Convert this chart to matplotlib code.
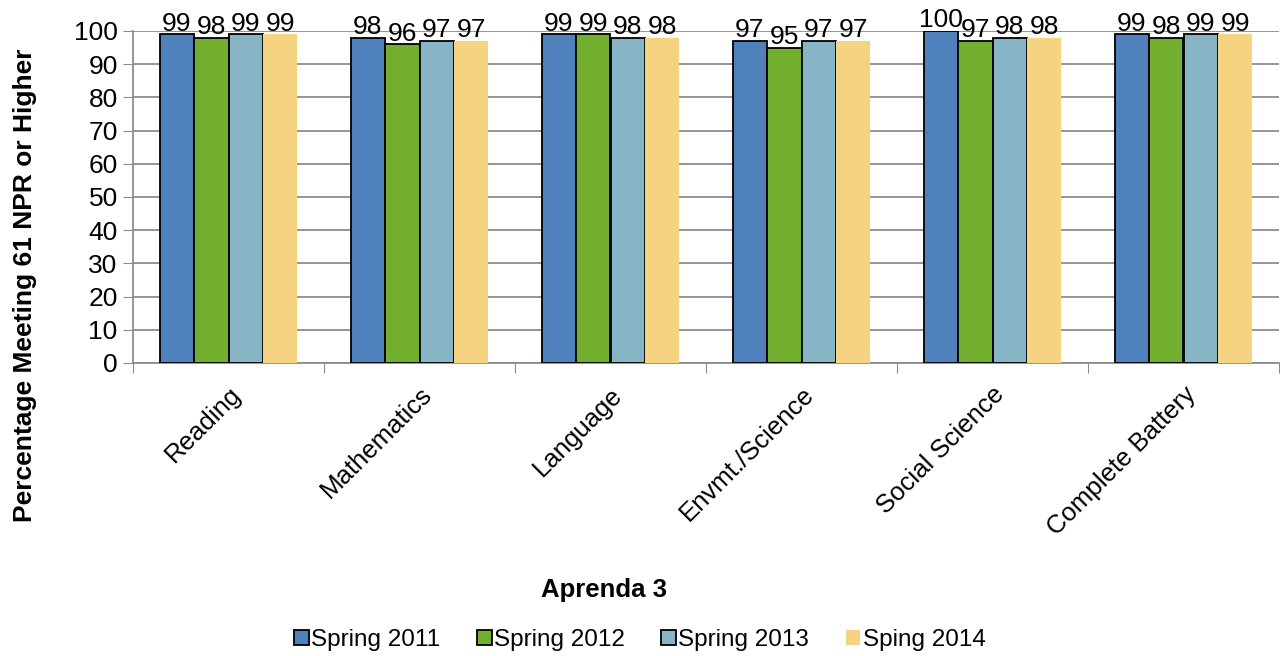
import matplotlib

matplotlib.use("Agg")

import matplotlib.pyplot as plt
import numpy as np

CATEGORIES = ["Reading", "Mathematics", "Language", "Envmt./Science",
              "Social Science", "Complete Battery"]
SERIES = ["Spring 2011", "Spring 2012", "Spring 2013", "Sping 2014"]
SPRING_2011 = [99, 98, 99, 97, 100, 99]
SPRING_2012 = [98, 96, 99, 95, 97, 98]
SPRING_2013 = [99, 97, 98, 97, 98, 99]
SPRING_2014 = [99, 97, 98, 97, 98, 99]

COLORS = ["#4F81BD", "#73AF2F", "#88B5C6", "#F5D380"]
EDGES = ["black", "black", "black", "none"]

plt.rcParams["font.family"] = ["Liberation Sans", "DejaVu Sans"]

fig = plt.figure(figsize=(12.8, 6.56), dpi=100)
ax = fig.add_axes([133 / 1280, 1 - 363 / 656, (1279 - 133) / 1280, (363 - 31) / 656])

x = np.arange(len(CATEGORIES))
width = 0.18
values = [SPRING_2011, SPRING_2012, SPRING_2013, SPRING_2014]
for i, (name, vals) in enumerate(zip(SERIES, values)):
    pos = x + (i - 1.5) * width
    bars = ax.bar(pos, vals, width, color=COLORS[i], edgecolor=EDGES[i],
                  linewidth=1.3, label=name, zorder=3)
    ax.bar_label(bars, labels=[str(v) for v in vals], padding=-1, fontsize=19)

ax.set_xlim(-0.5, len(CATEGORIES) - 0.5)
ax.set_ylim(0, 100)
ax.set_yticks(np.arange(0, 101, 10))
ax.tick_params(axis="y", labelsize=19, length=7, color="#8c8c8c",
               direction="out", pad=4)
ax.yaxis.grid(True, color="#8c8c8c", linewidth=1.3, zorder=0)
ax.set_axisbelow(True)

ax.set_xticks(np.arange(-0.5, len(CATEGORIES) + 0.5, 1.0))
ax.set_xticklabels([])
ax.set_xticks(x, minor=True)
ax.set_xticklabels(CATEGORIES, minor=True, rotation=45, ha="right",
                   rotation_mode="anchor", fontsize=18.5)
ax.tick_params(axis="x", which="major", length=7, color="#8c8c8c", direction="out")
ax.tick_params(axis="x", which="minor", length=0, pad=14)

for side in ["top", "right"]:
    ax.spines[side].set_visible(False)
ax.spines["left"].set_color("#8c8c8c")
ax.spines["bottom"].set_color("#8c8c8c")
ax.spines["left"].set_linewidth(1.3)
ax.spines["bottom"].set_linewidth(1.3)

fig.text(25 / 1280, 1 - 285 / 656, "Percentage Meeting 61 NPR or Higher",
         rotation=90, ha="center", va="center", fontsize=19, fontweight="bold")
fig.text(604 / 1280, 1 - 590 / 656, "Aprenda 3", ha="center", va="center",
         fontsize=18.5, fontweight="bold")

fig.legend(loc="center", bbox_to_anchor=(640 / 1280, 1 - 640 / 656), ncol=4,
           frameon=False, fontsize=17.5, handlelength=0.6, handleheight=0.6,
           handletextpad=0.1, columnspacing=1.5)

fig.savefig("out.png", dpi=100)
